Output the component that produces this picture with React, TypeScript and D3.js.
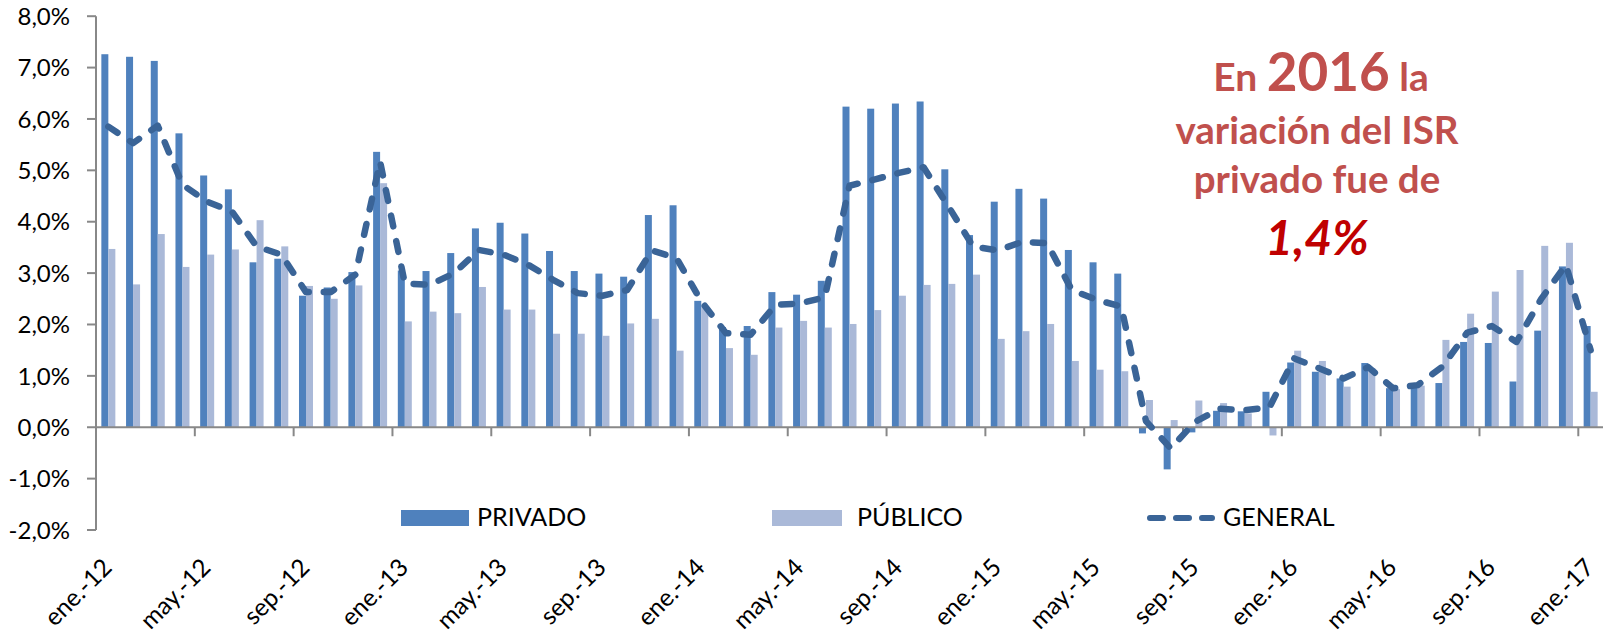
import React from 'react';
import * as d3 from 'd3';

const categories = [
  'ene.-12','feb.-12','mar.-12','abr.-12','may.-12','jun.-12','jul.-12','ago.-12','sep.-12','oct.-12','nov.-12','dic.-12',
  'ene.-13','feb.-13','mar.-13','abr.-13','may.-13','jun.-13','jul.-13','ago.-13','sep.-13','oct.-13','nov.-13','dic.-13',
  'ene.-14','feb.-14','mar.-14','abr.-14','may.-14','jun.-14','jul.-14','ago.-14','sep.-14','oct.-14','nov.-14','dic.-14',
  'ene.-15','feb.-15','mar.-15','abr.-15','may.-15','jun.-15','jul.-15','ago.-15','sep.-15','oct.-15','nov.-15','dic.-15',
  'ene.-16','feb.-16','mar.-16','abr.-16','may.-16','jun.-16','jul.-16','ago.-16','sep.-16','oct.-16','nov.-16','dic.-16',
  'ene.-17'
];

const privado = [
  7.26, 7.21, 7.13, 5.72, 4.90, 4.63, 3.21, 3.28, 2.56, 2.72, 3.02, 5.36,
  3.05, 3.04, 3.39, 3.87, 3.98, 3.77, 3.43, 3.04, 2.99, 2.93, 4.13, 4.32,
  2.46, 1.95, 1.97, 2.63, 2.58, 2.85, 6.24, 6.20, 6.30, 6.34, 5.02, 3.74,
  4.39, 4.64, 4.45, 3.45, 3.21, 2.99, -0.12, -0.82, -0.10, 0.32, 0.31, 0.69,
  1.26, 1.08, 0.95, 1.25, 0.76, 0.82, 0.86, 1.66, 1.64, 0.89, 1.88, 3.13,
  1.97
];

const publico = [
  3.47, 2.78, 3.76, 3.12, 3.36, 3.46, 4.03, 3.52, 2.75, 2.50, 2.76, 4.75,
  2.06, 2.25, 2.22, 2.73, 2.29, 2.29, 1.82, 1.82, 1.78, 2.02, 2.11, 1.49,
  2.35, 1.54, 1.41, 1.94, 2.07, 1.94, 2.01, 2.28, 2.56, 2.77, 2.79, 2.97,
  1.72, 1.87, 2.01, 1.29, 1.12, 1.09, 0.53, 0.14, 0.52, 0.47, 0.27, -0.16,
  1.49, 1.29, 0.79, 1.15, 0.74, 0.81, 1.70, 2.21, 2.64, 3.06, 3.53, 3.59,
  0.69
];

const general = [
  5.85, 5.53, 5.87, 4.72, 4.39, 4.20, 3.52, 3.36, 2.63, 2.63, 2.97, 5.17,
  2.80, 2.77, 3.00, 3.45, 3.36, 3.16, 2.87, 2.61, 2.56, 2.67, 3.44, 3.29,
  2.45, 1.83, 1.80, 2.38, 2.41, 2.53, 4.70, 4.82, 4.95, 5.06, 4.30, 3.52,
  3.44, 3.61, 3.58, 2.67, 2.48, 2.35, 0.12, -0.41, 0.11, 0.36, 0.33, 0.39,
  1.34, 1.15, 0.95, 1.17, 0.76, 0.82, 1.18, 1.84, 1.97, 1.66, 2.50, 3.16,
  1.50
];

const yTicks = [-2, -1, 0, 1, 2, 3, 4, 5, 6, 7, 8];
const seriesNames = ['PRIVADO', 'PÚBLICO', 'GENERAL'];

const C_PRIV = '#4F81BD';
const C_PUB = '#AAB9D8';
const C_GEN = '#3A6497';
const C_AXIS = '#888888';
const C_NOTE = '#C0504D';
const C_NOTE2 = '#C00000';

const FONT = 'Lato, "Open Sans", sans-serif';

export default function App() {
  const W = 1608, H = 638;
  const y = d3.scaleLinear().domain([-2, 8]).range([530, 16.2]);
  const x = d3.scaleBand<string>().domain(categories).range([96, 1603]);
  const bw = x.bandwidth();
  const sub = d3.scaleBand<string>().domain(['PRIVADO', 'PÚBLICO']).range([0, bw]).paddingOuter(0.765);
  const y0 = y(0);
  const fmt = (v: number) => d3.format('.1f')(v).replace('.', ',').replace('\u2212', '-') + '%';
  const line = d3.line<number>()
    .x((_, i) => (x(categories[i]) as number) + bw / 2)
    .y(d => y(d));

  const bar = (v: number, i: number, key: string, color: string) => {
    const bx = (x(categories[i]) as number) + (sub(key) as number);
    const top = y(Math.max(0, v));
    const h = Math.abs(y(v) - y0);
    return <rect key={key + i} x={bx} y={top} width={sub.bandwidth()} height={h} fill={color} />;
  };

  return (
    <svg width={W} height={H} style={{ position: 'absolute', left: 0, top: 0, background: '#fff' }} fontFamily={FONT}>
      <rect x={0} y={0} width={W} height={H} fill="#fff" />
      {/* y axis */}
      <line x1={96} x2={96} y1={y(8)} y2={y(-2)} stroke={C_AXIS} strokeWidth={2} />
      {yTicks.map(t => (
        <g key={'yt' + t}>
          <line x1={87} x2={96} y1={y(t)} y2={y(t)} stroke={C_AXIS} strokeWidth={2} />
          <text x={70} y={y(t)} dy="0.36em" textAnchor="end" fontSize={24} fill="#000">{fmt(t)}</text>
        </g>
      ))}
      {/* bars */}
      {privado.map((v, i) => bar(v, i, 'PRIVADO', C_PRIV))}
      {publico.map((v, i) => bar(v, i, 'PÚBLICO', C_PUB))}
      {/* x axis */}
      <line x1={96} x2={1603} y1={y0} y2={y0} stroke={C_AXIS} strokeWidth={2} />
      {categories.map((c, i) => (i % 4 === 0 && i > 0) ? (
        <line key={'xt' + i} x1={x(c) as number} x2={x(c) as number} y1={y0} y2={y0 + 9} stroke={C_AXIS} strokeWidth={2} />
      ) : null)}
      {/* general line */}
      <path d={line(general) || ''} fill="none" stroke={C_GEN} strokeWidth={6.5} strokeDasharray="11 15" strokeLinecap="round" strokeLinejoin="round" />
      {/* x labels */}
      {categories.map((c, i) => i % 4 === 0 ? (
        <text key={'xl' + i} transform={`translate(${(x(c) as number) + bw / 2 + 5},569) rotate(-45)`} textAnchor="end" fontSize={24.5} fill="#000">{c}</text>
      ) : null)}
      {/* legend */}
      <rect x={401} y={510} width={68} height={16} fill={C_PRIV} />
      <text x={477} y={526} fontSize={25} fill="#000">{seriesNames[0]}</text>
      <rect x={772} y={510} width={70} height={16} fill={C_PUB} />
      <text x={857} y={526} fontSize={25} fill="#000">{seriesNames[1]}</text>
      <line x1={1150} x2={1212} y1={518} y2={518} stroke={C_GEN} strokeWidth={6} strokeDasharray="13 13" strokeLinecap="round" />
      <text x={1223} y={526} fontSize={25} fill="#000">{seriesNames[2]}</text>
      {/* annotation */}
      <g fontWeight="bold" textAnchor="middle" fill={C_NOTE}>
        <text x={1321} y={90.5} fontSize={39}>En <tspan fontSize={53}>2016</tspan> la</text>
        <text x={1317} y={144} fontSize={38.5}>variación del ISR</text>
        <text x={1317} y={193} fontSize={38.5}>privado fue de</text>
        <text x={1317} y={255} fontSize={48} fontStyle="italic" fill={C_NOTE2}>1,4%</text>
      </g>
    </svg>
  );
}
